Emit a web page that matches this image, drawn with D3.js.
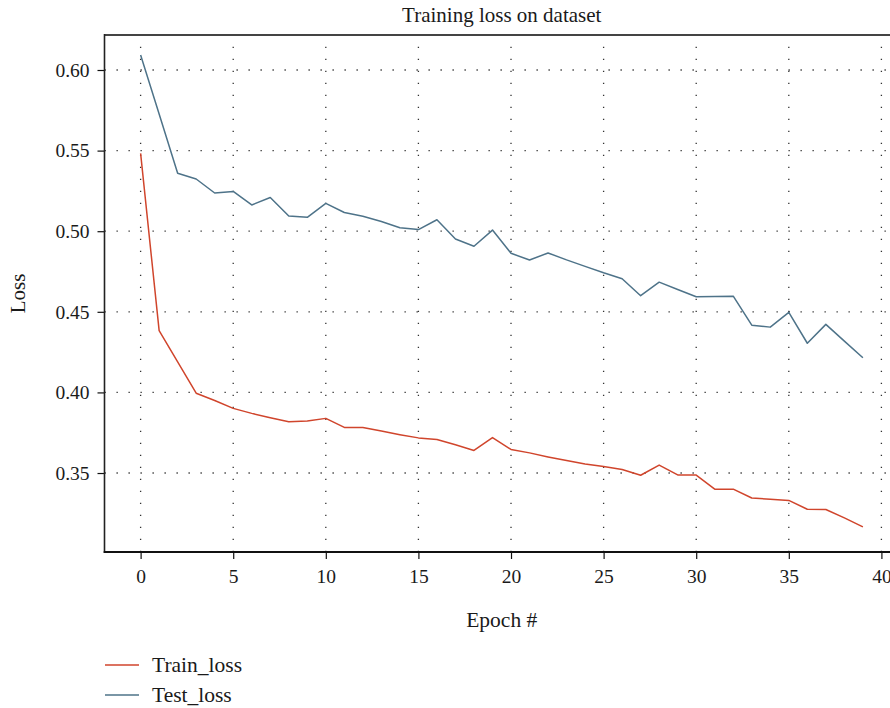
<!DOCTYPE html>
<html>
<head>
<meta charset="utf-8">
<script src="https://cdn.jsdelivr.net/npm/d3@7/dist/d3.min.js"></script>
<style>
  html, body { margin: 0; padding: 0; background: #fff; }
  svg { display: block; }
  text { font-family: "Liberation Serif", "DejaVu Serif", serif; fill: #1a1a1a; }
</style>
</head>
<body>
<svg id="chart" width="890" height="708"></svg>
<script>
// ---- data ----
const epochs = d3.range(0, 40);
const trainLoss = [0.5483, 0.4383, 0.4190, 0.3995, 0.3950, 0.3901, 0.3870, 0.3843, 0.3818, 0.3822,
                   0.3839, 0.3783, 0.3783, 0.3760, 0.3738, 0.3718, 0.3708, 0.3675, 0.3640, 0.3720,
                   0.3646, 0.3625, 0.3600, 0.3577, 0.3556, 0.3540, 0.3522, 0.3486, 0.3549, 0.3488,
                   0.3487, 0.3400, 0.3400, 0.3345, 0.3337, 0.3330, 0.3275, 0.3274, 0.3222, 0.3166];
const testLoss  = [0.6093, 0.5727, 0.5360, 0.5324, 0.5237, 0.5247, 0.5163, 0.5209, 0.5094, 0.5086,
                   0.5173, 0.5116, 0.5093, 0.5060, 0.5021, 0.5010, 0.5071, 0.4952, 0.4907, 0.5007,
                   0.4863, 0.4821, 0.4865, 0.4822, 0.4782, 0.4742, 0.4705, 0.4600, 0.4684, 0.4638,
                   0.4593, 0.4595, 0.4597, 0.4417, 0.4405, 0.4497, 0.4305, 0.4422, 0.4318, 0.4215];
const xTicks = [0, 5, 10, 15, 20, 25, 30, 35, 40];
const yTicks = [0.35, 0.40, 0.45, 0.50, 0.55, 0.60];
const seriesNames = ["Train_loss", "Test_loss"];
const seriesColors = ["#d0452c", "#4e7389"];

// ---- layout ----
const svg = d3.select("#chart");
const L = 104.5, R = 899, T = 35, B = 552;
const x = d3.scaleLinear().domain([-1.95, 40.95]).range([L, R]);
const y = d3.scaleLinear().domain([0.30101, 0.62171]).range([B, T]);

svg.append("defs").append("clipPath").attr("id", "plotclip")
  .append("rect").attr("x", L).attr("y", T).attr("width", R - L).attr("height", B - T);

// grid
const grid = svg.append("g");
grid.selectAll(".vg").data(xTicks).enter().append("line")
  .attr("x1", d => x(d)).attr("x2", d => x(d)).attr("y1", B).attr("y2", T)
  .attr("stroke", "#333").attr("stroke-width", 1.3).attr("stroke-dasharray", "1.3,10.7");
grid.selectAll(".hg").data(yTicks).enter().append("line")
  .attr("y1", d => y(d)).attr("y2", d => y(d)).attr("x1", L).attr("x2", R)
  .attr("stroke", "#333").attr("stroke-width", 1.3).attr("stroke-dasharray", "1.3,10.7");

// lines
const seriesData = [trainLoss, testLoss];
const line = d3.line().x((d, i) => x(epochs[i])).y(d => y(d));
svg.append("g").attr("clip-path", "url(#plotclip)")
  .selectAll("path").data(seriesData).enter().append("path")
  .attr("d", line).attr("fill", "none")
  .attr("stroke", (d, i) => seriesColors[i]).attr("stroke-width", 1.5)
  .attr("stroke-linejoin", "round");

// axes
const xAxis = d3.axisBottom(x).tickValues(xTicks).tickFormat(d3.format("d")).tickSize(7).tickPadding(10);
const yAxis = d3.axisLeft(y).tickValues(yTicks).tickFormat(d3.format(".2f")).tickSize(7).tickPadding(8);
const gx = svg.append("g").attr("transform", `translate(0,${B})`).call(xAxis);
const gy = svg.append("g").attr("transform", `translate(${L},0)`).call(yAxis);
[gx, gy].forEach(g => {
  g.select(".domain").remove();
  g.selectAll(".tick line").attr("stroke", "#111").attr("stroke-width", 1.2);
  g.selectAll(".tick text").attr("font-size", 19.5).attr("fill", "#1a1a1a")
    .style("font-family", '"Liberation Serif", serif');
});

// frame
svg.append("line").attr("x1", L).attr("x2", 890).attr("y1", T).attr("y2", T)
  .attr("stroke", "#444").attr("stroke-width", 2);
svg.append("line").attr("x1", L).attr("x2", L).attr("y1", T - 1).attr("y2", B + 1)
  .attr("stroke", "#222").attr("stroke-width", 1.6);
svg.append("line").attr("x1", L - 0.8).attr("x2", 890).attr("y1", B).attr("y2", B)
  .attr("stroke", "#111").attr("stroke-width", 1.8);

// title and labels
svg.append("text").attr("x", (L + R) / 2).attr("y", 22).attr("text-anchor", "middle")
  .attr("font-size", 21).text("Training loss on dataset");
svg.append("text").attr("x", (L + R) / 2).attr("y", 627).attr("text-anchor", "middle")
  .attr("font-size", 21.5).text("Epoch #");
svg.append("text").attr("transform", `translate(25,${(T + B) / 2}) rotate(-90)`)
  .attr("text-anchor", "middle").attr("font-size", 21).text("Loss");

// legend
const leg = svg.append("g");
seriesNames.forEach((name, i) => {
  const yy = 665 + i * 30;
  leg.append("line").attr("x1", 105).attr("x2", 139).attr("y1", yy).attr("y2", yy)
    .attr("stroke", seriesColors[i]).attr("stroke-width", 1.5);
  leg.append("text").attr("x", 152).attr("y", yy + 7).attr("font-size", 21.5).text(name);
});
</script>
</body>
</html>
